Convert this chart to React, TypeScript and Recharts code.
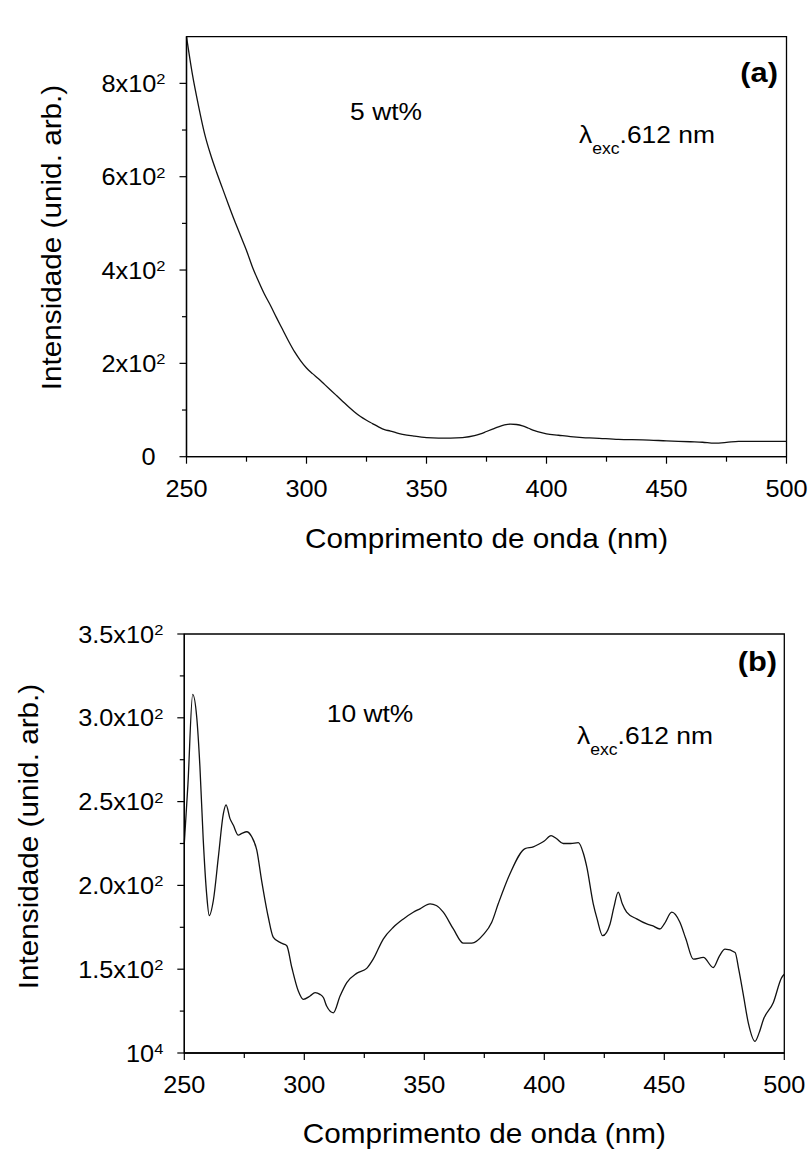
import { LineChart, Line, XAxis, YAxis, ReferenceArea } from "recharts";

// (a) 5 wt%
const TOP_NM = [
  250, 252.5, 255, 257.5, 260, 262.5, 265, 267.5, 270, 272.5, 275, 277.5, 280, 282.5, 285,
  287.5, 290, 292.5, 295, 297.5, 300, 302.5, 305, 307.5, 310, 312.5, 315, 317.5, 320, 322.5,
  325, 327.5, 330, 332.5, 335, 337.5, 340, 345, 350, 355, 360, 365, 370, 372.5, 375, 377.5,
  380, 382.5, 385, 387.5, 390, 392.5, 395, 397.5, 400, 405, 410, 415, 420, 430, 440, 450,
  460, 465, 470, 475, 480, 490, 500,
];
const TOP_INT = [
  900, 818, 752, 693, 648, 610, 575, 540, 506, 474, 442, 406, 376, 348, 324,
  298, 273, 248, 225, 206, 190, 178, 167, 155, 143, 131, 119, 107, 96, 86,
  78, 71, 64, 58, 55, 51, 48, 44, 41, 40, 40, 41, 45, 49, 54, 59,
  64, 68, 70, 69, 66, 61, 56, 52, 49, 46, 43, 41, 40, 37, 36, 34,
  32, 31, 29, 30.5, 33, 33, 33,
];

// (b) 10 wt%
const BOT_NM = [
  250, 251.5, 253.5, 255.2, 256.5, 257.9, 259.3, 260.4, 262.1, 264.2, 266.3, 267.4, 269, 270.4,
  272.5, 274, 276, 278.1, 280.2, 282.2, 285, 287.1, 289.9, 291.5, 292.7, 294.8, 297.5, 299.6,
  302.4, 304.5, 306.5, 308, 309.3, 312.1, 314.9, 317.7, 321.8, 326, 328.7, 332.9, 337.1, 341.3,
  345.4, 348.2, 352.4, 355, 357.9, 362.1, 366.3, 369.8, 374.6, 378.1, 380.8, 385.7, 392, 395.4,
  398.2, 400, 402.8, 405, 407.9, 411, 414.2, 416.3, 417.7, 420.4, 422, 424.3, 427.4, 429,
  430.8, 432.5, 434.3, 438.5, 442.7, 445, 448.2, 450, 453.1, 456.5, 459, 462.1, 466.3, 470.4,
  473, 475.3, 479.5, 481, 482.9, 485, 487.8, 489.5, 491.3, 495.4, 498.9, 500,
];
const BOT_INT = [
  225, 260, 314, 300, 271, 227, 195, 182, 191, 217, 243, 248, 240, 236,
  230, 231, 232, 229, 221, 203, 181, 169, 166, 165, 164, 151, 137, 132,
  134, 136, 135, 133, 128, 124, 134, 142, 147.5, 150.5, 156, 168, 175, 180,
  184, 186, 189, 188, 184, 174, 165.5, 165.5, 170.6, 178, 189, 207, 222, 223,
  225, 226.5, 229.7, 228, 225, 225, 225.5, 219, 211, 189, 180, 170, 177, 187,
  196, 189, 184, 180, 177, 176, 174, 177, 184, 178, 168, 156, 157, 151,
  158, 162, 160, 150, 135, 118, 107, 112, 120, 130, 145, 147,
];

const X_TICKS = [250, 275, 300, 325, 350, 375, 400, 425, 450, 475, 500];
const X_MAJOR = [250, 300, 350, 400, 450, 500];

const TOP_Y_TICKS = [0, 100, 200, 300, 400, 500, 600, 700, 800];
const TOP_Y_MAJOR = [0, 200, 400, 600, 800];
const TOP_Y_BASE = ["0", "2x10", "4x10", "6x10", "8x10"];
const TOP_Y_SUP = ["", "2", "2", "2", "2"];

const BOT_Y_TICKS = [100, 125, 150, 175, 200, 225, 250, 275, 300, 325, 350];
const BOT_Y_MAJOR = [100, 150, 200, 250, 300, 350];
const BOT_Y_BASE = ["10", "1.5x10", "2.0x10", "2.5x10", "3.0x10", "3.5x10"];
const BOT_Y_SUP = ["4", "2", "2", "2", "2", "2"];

const topData = TOP_NM.map((nm, i) => ({ nm, v: TOP_INT[i] }));
const botData = BOT_NM.map((nm, i) => ({ nm, v: BOT_INT[i] }));

const FONT = "'Liberation Sans', Arial, sans-serif";
const SX = 1.1;

function xTick(props: any) {
  const { x, y, payload } = props;
  const major = X_MAJOR.includes(payload.value);
  return (
    <g>
      <line x1={x} x2={x} y1={y} y2={y + (major ? 7 : 5)} stroke="#000" strokeWidth={1.2} />
      {major && (
        <text
          transform={`translate(${x},${y + 40}) scale(${SX},1)`}
          textAnchor="middle"
          fontSize={23}
          fontFamily={FONT}
          fill="#000"
        >
          {payload.value}
        </text>
      )}
    </g>
  );
}

function makeYTick(major: number[], base: string[], sup: string[]) {
  return (props: any) => {
    const { x, y, payload } = props;
    const idx = major.indexOf(payload.value);
    const hasSup = idx >= 0 && sup[idx] !== "";
    const right = x - 21 - (hasSup ? 0 : 10);
    return (
      <g>
        <line x1={x - (idx >= 0 ? 7 : 4.5)} x2={x} y1={y} y2={y} stroke="#000" strokeWidth={1.2} />
        {idx >= 0 && (
          <text
            transform={`translate(${right},${y + 8.5}) scale(${SX},1)`}
            textAnchor="end"
            fontSize={23}
            fontFamily={FONT}
            fill="#000"
          >
            {base[idx]}
            {hasSup && (
              <tspan dy={-7.5} fontSize={15}>
                {sup[idx]}
              </tspan>
            )}
          </text>
        )}
      </g>
    );
  };
}

const topYTick = makeYTick(TOP_Y_MAJOR, TOP_Y_BASE, TOP_Y_SUP);
const botYTick = makeYTick(BOT_Y_MAJOR, BOT_Y_BASE, BOT_Y_SUP);

function Lambda({ x, y }: { x: number; y: number }) {
  return (
    <text transform={`translate(${x},${y}) scale(${SX},1)`} fontSize={24} fontFamily={FONT} fill="#000">
      λ
      <tspan dy={11} fontSize={16}>
        exc
      </tspan>
      <tspan dy={-11}>.612 nm</tspan>
    </text>
  );
}

export default function App() {
  return (
    <div
      style={{
        position: "absolute",
        left: 0,
        top: 0,
        width: 812,
        height: 1151,
        background: "#fff",
        fontFamily: FONT,
      }}
    >
      <div style={{ position: "absolute", left: 0, top: 0 }}>
        <LineChart
          width={812}
          height={580}
          data={topData}
          margin={{ top: 36.7, right: 25.5, left: 86.5, bottom: 63.3 }}
        >
          <XAxis
            dataKey="nm"
            type="number"
            domain={[250, 500]}
            ticks={X_TICKS}
            interval={0}
            tickSize={0}
            tickMargin={0}
            tickLine={false}
            tick={xTick}
            height={60}
            axisLine={{ stroke: "#000", strokeWidth: 1.3 }}
          />
          <YAxis
            type="number"
            domain={[0, 900]}
            ticks={TOP_Y_TICKS}
            interval={0}
            tickSize={0}
            tickMargin={0}
            tickLine={false}
            tick={topYTick}
            width={100}
            axisLine={{ stroke: "#000", strokeWidth: 1.3 }}
          />
          <ReferenceArea x1={250} x2={500} y1={0} y2={900} fill="none" stroke="#000" strokeWidth={1.3} />
          <Line
            type="monotone"
            dataKey="v"
            stroke="#111"
            strokeWidth={1.3}
            dot={false}
            isAnimationActive={false}
          />
        </LineChart>
      </div>
      <div style={{ position: "absolute", left: 0, top: 600 }}>
        <LineChart
          width={812}
          height={551}
          data={botData}
          margin={{ top: 34, right: 27.7, left: 84.3, bottom: 38 }}
        >
          <XAxis
            dataKey="nm"
            type="number"
            domain={[250, 500]}
            ticks={X_TICKS}
            interval={0}
            tickSize={0}
            tickMargin={0}
            tickLine={false}
            tick={xTick}
            height={60}
            axisLine={{ stroke: "#000", strokeWidth: 1.3 }}
          />
          <YAxis
            type="number"
            domain={[100, 350]}
            ticks={BOT_Y_TICKS}
            interval={0}
            tickSize={0}
            tickMargin={0}
            tickLine={false}
            tick={botYTick}
            width={100}
            axisLine={{ stroke: "#000", strokeWidth: 1.3 }}
          />
          <ReferenceArea x1={250} x2={500} y1={100} y2={350} fill="none" stroke="#000" strokeWidth={1.3} />
          <Line
            type="monotone"
            dataKey="v"
            stroke="#111"
            strokeWidth={1.3}
            dot={false}
            isAnimationActive={false}
          />
        </LineChart>
      </div>
      <svg
        width={812}
        height={1151}
        style={{ position: "absolute", left: 0, top: 0, pointerEvents: "none" }}
      >
        <g fontFamily={FONT} fill="#000">
          {/* painel (a) */}
          <text transform={`translate(61,237.5) rotate(-90) scale(${SX},1)`} textAnchor="middle" fontSize={27}>
            Intensidade (unid. arb.)
          </text>
          <text transform={`translate(486.5,548) scale(${SX},1)`} textAnchor="middle" fontSize={27}>
            Comprimento de onda (nm)
          </text>
          <text transform={`translate(422,120) scale(${SX},1)`} textAnchor="end" fontSize={24}>
            5 wt%
          </text>
          <Lambda x={579} y={143} />
          <text transform={`translate(778,82) scale(${SX},1)`} textAnchor="end" fontSize={28} fontWeight="bold">
            (a)
          </text>

          {/* painel (b) */}
          <text transform={`translate(37.5,836.5) rotate(-90) scale(${SX},1)`} textAnchor="middle" fontSize={27}>
            Intensidade (unid. arb.)
          </text>
          <text transform={`translate(484.3,1143) scale(${SX},1)`} textAnchor="middle" fontSize={27}>
            Comprimento de onda (nm)
          </text>
          <text transform={`translate(326.7,722) scale(${SX},1)`} fontSize={24}>
            10 wt%
          </text>
          <Lambda x={577} y={744} />
          <text transform={`translate(777,671) scale(${SX},1)`} textAnchor="end" fontSize={28} fontWeight="bold">
            (b)
          </text>
        </g>
      </svg>
    </div>
  );
}
